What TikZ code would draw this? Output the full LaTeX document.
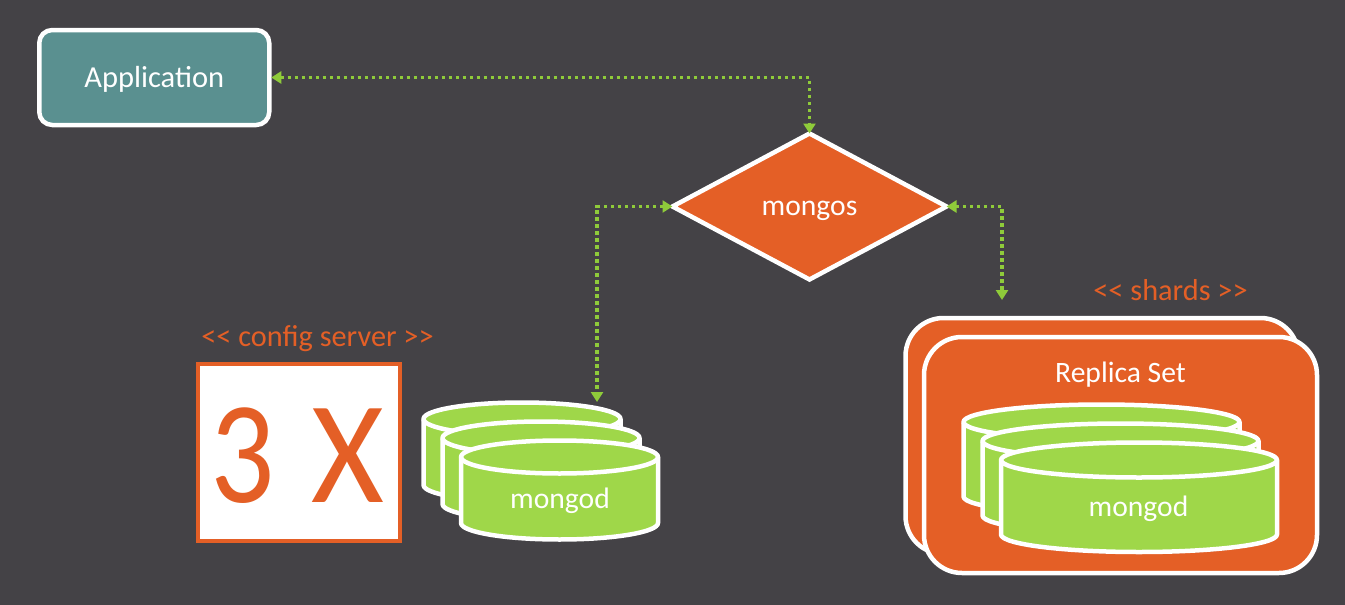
\documentclass[tikz,border=0pt]{standalone}
\usepackage{fontspec}
\usepackage{graphicx}
\setmainfont{Carlito}
\usetikzlibrary{arrows.meta,shapes.geometric,shadows}
\definecolor{bgdark}{HTML}{444246}
\definecolor{orangefill}{HTML}{E45F26}
\definecolor{diskgreen}{HTML}{9FD749}
\definecolor{linkgreen}{HTML}{8FCB3A}
\definecolor{tealfill}{HTML}{5A9090}
\tikzset{
  softshadow/.style={drop shadow={shadow xshift=0pt,shadow yshift=-2pt,opacity=.35,fill=black}},
  appbox/.style={draw=white,line width=4.5pt,fill=tealfill,rounded corners=13pt,minimum width=230pt,minimum height=95pt,inner sep=0pt,outer sep=2pt,text=white,font=\fontsize{30.5}{30.5}\selectfont,softshadow},
  routerbox/.style={shape=diamond,draw=white,line width=4.5pt,fill=orangefill,minimum width=274pt,minimum height=146pt,inner sep=0pt,outer sep=0pt,text=white,font=\fontsize{29.6}{29.6}\selectfont,softshadow},
  shardbox/.style={draw=white,line width=4.5pt,fill=orangefill,rounded corners=38pt,minimum width=393pt,minimum height=236pt,inner sep=0pt,softshadow},
  countbox/.style={draw=orangefill,line width=4.5pt,fill=white,minimum width=202pt,minimum height=177pt,inner sep=0pt,text=orangefill,font=\fontsize{146}{146}\selectfont},
  taglabel/.style={text=orangefill,inner sep=0pt,font=\fontsize{30.3}{30.3}\selectfont},
  whitelabel/.style={text=white,inner sep=0pt,font=\fontsize{29.6}{29.6}\selectfont},
  diskbody/.style={draw=white,line width=4.5pt,fill=diskgreen,line join=round,softshadow},
  diskrim/.style={draw=white,line width=4.5pt},
  link/.style={draw=linkgreen,line width=3.5pt,dash pattern=on 3.5pt off 3.5pt,{Triangle[length=10pt,width=12pt]}-{Triangle[length=10pt,width=12pt]}},
}
\newcommand{\dbdisk}[5]{% cx, cy, rx, ry, h
  \path[diskbody] (#1-#3,#2) -- (#1-#3,#2+#5)
    arc[start angle=180,end angle=360,x radius=#3pt,y radius=#4pt]
    -- (#1+#3,#2)
    arc[start angle=0,end angle=180,x radius=#3pt,y radius=#4pt] -- cycle;
  \draw[diskrim] (#1-#3,#2) arc[start angle=180,end angle=360,x radius=#3pt,y radius=#4pt];
}
\begin{document}
\begin{tikzpicture}[x=1pt,y=-1pt]
\fill[bgdark] (0,0) rectangle (1345,605);
\useasboundingbox (0,0) rectangle (1345,605);

\node[appbox] (app) at (154.25,77.5) {\raisebox{-9.5pt}[0pt][0pt]{Application}};
\node[routerbox] (router) at (809.5,206.5) {\raisebox{-9pt}[0pt][0pt]{mongos}};

\node[taglabel,anchor=base] (cfgtag) at (317.5,346) {<{}< config server >{}>};
\node[countbox] (count) at (299,452.5) {\raisebox{-49.5pt}[0pt][0pt]{\hspace{-3pt}\scalebox{.87}[1]{3}\hspace{37pt}\scalebox{.96}[1]{X}}};

\dbdisk{522}{419}{98.5}{16.5}{66}
\dbdisk{541}{438}{98.5}{16.5}{66}
\dbdisk{559.5}{457}{98.5}{16.5}{66}
\node[whitelabel] (cfgdisk) at (560,501) {mongod};

\node[taglabel,anchor=base] (shardtag) at (1170.5,300) {<{}< shards >{}>};
\node[shardbox] (shardback) at (1102,436) {};
\node[shardbox] (shardfront) at (1120.5,455) {};
\node[whitelabel] (replica) at (1120.5,375) {Replica Set};

\dbdisk{1101.5}{422}{138}{17.5}{74.5}
\dbdisk{1120.5}{441}{138}{17.5}{74.5}
\dbdisk{1139}{460}{138}{17.5}{74.5}
\node[whitelabel] (sharddisk) at (1138.5,509) {mongod};

\coordinate (cfgend) at (597,402);
\coordinate (shardend) at (1002,300);
\draw[link] (app.east) -| (router.north);
\draw[link] (router.west) -| (cfgend);
\draw[link] (router.east) -| (shardend);
\end{tikzpicture}
\end{document}
